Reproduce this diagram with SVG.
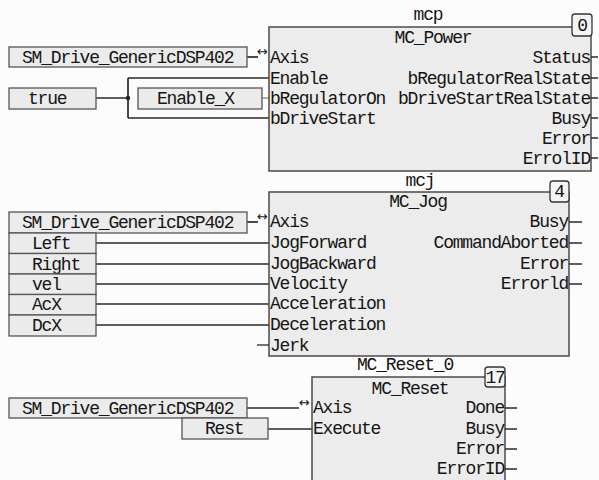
<svg xmlns="http://www.w3.org/2000/svg" width="599" height="480" viewBox="0 0 599 480">
<style>
text{font-family:"Liberation Mono","DejaVu Sans Mono",monospace;font-size:18px;letter-spacing:-1.2px;fill:#151515}
.fb{fill:#ececec;stroke:#4a4a4a;stroke-width:1.5}
.vb{fill:#ebebeb;stroke:#555;stroke-width:1.3}
.badge{fill:#f4f4f4;stroke:#333;stroke-width:1.3}
.w{stroke:#2a2a2a;stroke-width:1.7;fill:none}
.st{stroke:#2a2a2a;stroke-width:1.3;fill:none}
.r{text-anchor:end}
.m{text-anchor:middle}
.arr{font-family:"DejaVu Sans",sans-serif;font-size:13px;letter-spacing:0}
</style>
<rect width="599" height="480" fill="#fcfcfc"/>

<g id="connectors">
  <path class="w" d="M247 57H258"/>
  <path class="w" d="M96 98H128M128 78V118M128 78H269M128 118H269"/>
  <circle cx="128" cy="98" r="2.2" fill="#222"/>
  <path d="M262 98H269" stroke="#999" stroke-width="1.5"/>
  <path class="w" d="M247 222H258"/>
  <path class="w" d="M96 243H269M96 264H269M96 284H269M96 304H269M96 325H269"/>
  <path class="w" d="M247 408H299M268 429H312"/>
</g>

<g id="mcp">
  <text class="m" x="428" y="20">mcp</text>
  <rect class="fb" x="269" y="27" width="322" height="144"/>
  <rect class="badge" x="572" y="14" width="20" height="22" rx="3"/>
  <text class="m" x="582" y="31">0</text>
  <text class="m" x="433" y="43">MC_Power</text>
  <text class="arr" x="257" y="56">↔</text>
  <text x="270" y="63">Axis</text>
  <text x="270" y="84">Enable</text>
  <text x="270" y="104">bRegulatorOn</text>
  <text x="270" y="124">bDriveStart</text>
  <text class="r" x="590" y="63">Status</text>
  <text class="r" x="590" y="84">bRegulatorRealState</text>
  <text class="r" x="590" y="104">bDriveStartRealState</text>
  <text class="r" x="590" y="124">Busy</text>
  <text class="r" x="590" y="144">Error</text>
  <text class="r" x="590" y="164">ErrolID</text>
  <path class="st" d="M591 57H598M591 78H598M591 98H598M591 118H598M591 138H598M591 158H598"/>
</g>

<g id="mcp-inputs">
  <rect class="vb" x="9" y="47" width="238" height="20"/>
  <text x="22" y="63">SM_Drive_GenericDSP402</text>
  <rect class="vb" x="9" y="88" width="87" height="21"/>
  <text x="28" y="104">true</text>
  <rect class="vb" x="138" y="88" width="124" height="21"/>
  <text x="157" y="104">Enable_X</text>
</g>

<g id="mcj">
  <text class="m" x="420" y="186">mcj</text>
  <rect class="fb" x="269" y="192" width="300" height="164"/>
  <rect class="badge" x="550" y="181" width="19" height="21" rx="3"/>
  <text class="m" x="559" y="197">4</text>
  <text class="m" x="418" y="207">MC_Jog</text>
  <text class="arr" x="257" y="221">↔</text>
  <text x="270" y="227">Axis</text>
  <text x="270" y="248">JogForward</text>
  <text x="270" y="269">JogBackward</text>
  <text x="270" y="289">Velocity</text>
  <text x="270" y="309">Acceleration</text>
  <text x="270" y="330">Deceleration</text>
  <text x="270" y="351">Jerk</text>
  <path class="st" d="M257 345H269"/>
  <text class="r" x="568" y="227">Busy</text>
  <text class="r" x="568" y="248">CommandAborted</text>
  <text class="r" x="568" y="269">Error</text>
  <text class="r" x="568" y="289">Errorld</text>
  <path class="st" d="M569 222H582M569 243H582M569 264H582M569 284H582"/>
</g>

<g id="mcj-inputs">
  <rect class="vb" x="9" y="212" width="238" height="21"/>
  <text x="22" y="228">SM_Drive_GenericDSP402</text>
  <rect class="vb" x="9" y="233" width="87" height="20.5"/>
  <text x="32" y="249">Left</text>
  <rect class="vb" x="9" y="253.5" width="87" height="20.5"/>
  <text x="32" y="270">Right</text>
  <rect class="vb" x="9" y="274" width="87" height="20.5"/>
  <text x="32" y="290">vel</text>
  <rect class="vb" x="9" y="294.5" width="87" height="20.5"/>
  <text x="32" y="310">AcX</text>
  <rect class="vb" x="9" y="315" width="87" height="21"/>
  <text x="32" y="331">DcX</text>
</g>

<g id="mc-reset">
  <text class="m" x="405" y="370">MC_Reset_0</text>
  <rect class="fb" x="312" y="377" width="193" height="110"/>
  <rect class="badge" x="485" y="367" width="20" height="20" rx="3"/>
  <text class="m" x="495" y="383">17</text>
  <text class="m" x="410" y="394">MC_Reset</text>
  <text class="arr" x="299" y="407">↔</text>
  <text x="313" y="413">Axis</text>
  <text x="313" y="434">Execute</text>
  <text class="r" x="504" y="413">Done</text>
  <text class="r" x="504" y="434">Busy</text>
  <text class="r" x="504" y="454">Error</text>
  <text class="r" x="504" y="474">ErrorID</text>
  <path class="st" d="M505 408H517M505 429H517M505 449H517M505 469H517"/>
</g>

<g id="mc-reset-inputs">
  <rect class="vb" x="9" y="398" width="238" height="20"/>
  <text x="22" y="414">SM_Drive_GenericDSP402</text>
  <rect class="vb" x="182" y="418" width="86" height="21"/>
  <text x="205" y="434">Rest</text>
</g>
</svg>
